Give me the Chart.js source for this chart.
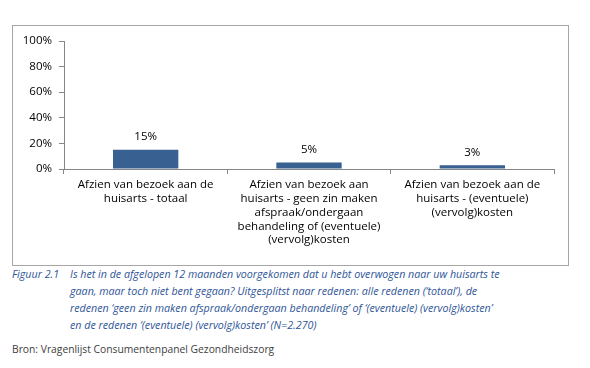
<!DOCTYPE html>
<html>
<head>
<meta charset="utf-8">
<script src="https://cdn.jsdelivr.net/npm/chart.js@4/dist/chart.umd.min.js"></script>
<style>
  body { margin: 0; background: #fff; font-family: "Open Sans", "Liberation Sans", sans-serif; }
  #box { position: absolute; left: 12px; top: 25px; width: 555px; height: 239px; border: 1px solid #a6a6a6; }
  #caption { position: absolute; left: 12px; top: 266px; width: 578px; color: #2e5597; font-style: italic; font-size: 10.7px; line-height: 17px; white-space: nowrap; }
  #caption .num { position: absolute; left: 0; top: 0; }
  #caption .txt { margin-left: 58px; }
  #bron { position: absolute; left: 12px; top: 342px; color: #404040; font-size: 10.3px; }
</style>
</head>
<body>
<div id="box"><canvas id="chart" width="555" height="239"></canvas></div>
<div id="caption">
  <span class="num">Figuur 2.1</span>
  <div class="txt">Is het in de afgelopen 12 maanden voorgekomen dat u hebt overwogen naar uw huisarts te<br>gaan, maar toch niet bent gegaan? Uitgesplitst naar redenen: alle redenen (‘totaal’), de<br>redenen ‘geen zin maken afspraak/ondergaan behandeling’ of ‘(eventuele) (vervolg)kosten’<br>en de redenen ‘(eventuele) (vervolg)kosten’ (N=2.270)</div>
</div>
<div id="bron">Bron: Vragenlijst Consumentenpanel Gezondheidszorg</div>
<script>
'use strict';

// Categories (multi-line labels) and values in percent
const categories = [
  ['Afzien van bezoek aan de', 'huisarts - totaal'],
  ['Afzien van bezoek aan', 'huisarts - geen zin maken', 'afspraak/ondergaan', 'behandeling of (eventuele)', '(vervolg)kosten'],
  ['Afzien van bezoek aan de', 'huisarts - (eventuele)', '(vervolg)kosten']
];
const percentages = [15, 5, 3];
const yTicks = [0, 20, 40, 60, 80, 100];

const fontFamily = '"Open Sans", "Liberation Sans", sans-serif';

// Draw the value labels above each bar
const valueLabels = {
  id: 'valueLabels',
  afterDatasetsDraw(chart) {
    const ctx = chart.ctx;
    const meta = chart.getDatasetMeta(0);
    ctx.save();
    ctx.fillStyle = '#000';
    ctx.font = '11.5px ' + fontFamily;
    ctx.textAlign = 'center';
    ctx.textBaseline = 'bottom';
    meta.data.forEach(function(bar, i) {
      ctx.fillText(percentages[i] + '%', bar.x, bar.y - 7);
    });
    ctx.restore();
  }
};

new Chart(document.getElementById('chart'), {
  type: 'bar',
  data: {
    labels: categories,
    datasets: [{
      data: percentages,
      backgroundColor: '#386192',
      borderWidth: 0,
      categoryPercentage: 0.4,
      barPercentage: 1
    }]
  },
  plugins: [valueLabels],
  options: {
    responsive: false,
    animation: false,
    layout: { padding: { top: 15, right: 14, left: 0, bottom: 0 } },
    plugins: { legend: { display: false }, tooltip: { enabled: false } },
    scales: {
      x: {
        afterFit(scale) { scale.height = 96; },
        grid: { offset: true, drawOnChartArea: false, tickLength: 5, color: '#868686' },
        border: { color: '#868686' },
        ticks: { color: '#000', font: { size: 11.5, family: fontFamily }, padding: 4, maxRotation: 0, autoSkip: false }
      },
      y: {
        min: 0,
        max: 100,
        afterFit(scale) { scale.width = 51; },
        afterBuildTicks(scale) { scale.ticks = yTicks.map(v => ({ value: v })); },
        grid: { drawOnChartArea: false, tickLength: 5, color: '#868686' },
        border: { color: '#868686' },
        ticks: { color: '#000', font: { size: 11.5, family: fontFamily }, padding: 7, callback: v => v + '%' }
      }
    }
  }
});
</script>
</body>
</html>
